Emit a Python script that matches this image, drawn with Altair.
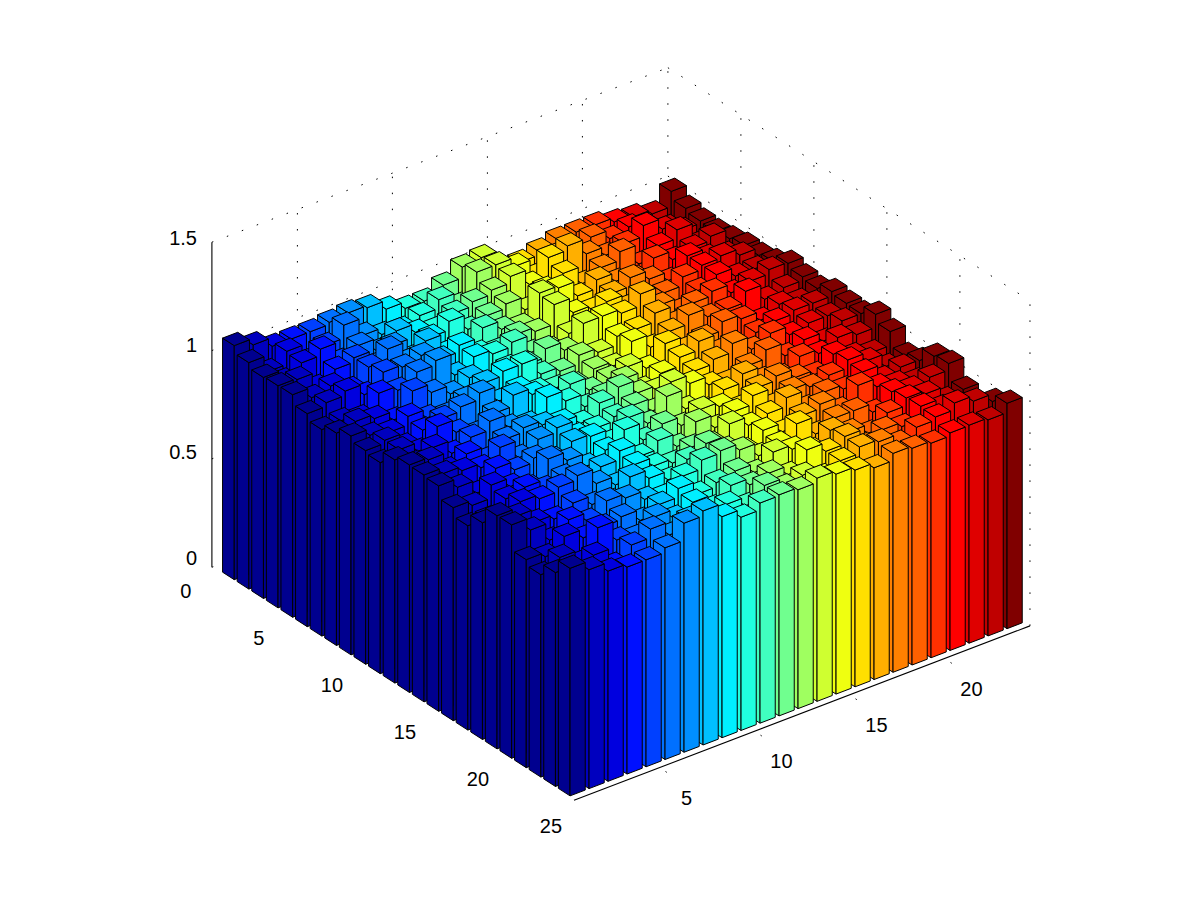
import altair as alt
import pandas as pd

alt.data_transformers.disable_max_rows()

# Bar heights: one list per row (front-left axis), one value per column.
ROW_00 = [1.08,1.05,1.01,1.01,1.01,1.02,1.03,1.02,.98,.95,.95,.99,1.04,1.05,.95,.96,.98,1.00,1.00,1.00,.98,.97,.95,1.02]
ROW_01 = [1.045,.97,1.03,.95,.99,1.05,.97,.94,.93,.96,1.00,.94,1.06,1.06,1.02,.94,1.00,.96,1.02,.98,1.00,.96,.93,.985]
ROW_02 = [1.02,.97,1.02,1.05,.96,1.00,.94,1.00,.96,.94,.98,1.00,1.02,1.05,.98,1.07,1.09,1.02,.98,1.00,1.05,1.00,.96,.97]
ROW_03 = [1.025,1.02,.95,1.00,1.02,.95,1.01,.92,.98,1.02,.95,.98,1.00,.94,1.00,1.04,.96,1.00,1.04,.95,1.00,1.04,.94,.965]
ROW_04 = [1.027,.98,1.00,.95,1.02,1.07,.98,1.04,.95,.92,1.00,.96,.94,1.06,1.05,.98,1.02,.98,.96,1.02,.98,1.00,1.02,.975]
ROW_05 = [.983,1.00,1.02,.97,1.04,1.03,1.05,1.00,1.03,.96,.94,.98,.96,1.05,.98,.96,1.00,1.04,1.00,.96,1.04,1.00,.98,.988]
ROW_06 = [.953,.96,.94,1.02,1.00,1.05,1.07,.97,1.02,1.00,1.02,.94,.92,.96,.97,1.04,.98,.93,.98,1.02,1.04,1.05,1.02,.985]
ROW_07 = [.98,1.00,.98,.94,1.04,1.00,.96,1.00,.94,.98,.96,1.00,.96,1.05,1.05,1.03,1.085,1.00,.94,1.00,1.04,1.00,1.00,1.00]
ROW_08 = [1.01,.98,.96,1.00,.96,.94,.98,1.02,1.04,1.04,.96,.94,.98,.96,1.00,1.00,1.04,.96,1.02,1.04,1.00,1.02,1.04,1.035]
ROW_09 = [.986,1.00,.94,.98,1.00,1.02,1.05,.98,1.00,.96,.94,.92,.96,.94,1.02,.96,1.00,1.04,1.00,1.00,1.05,.98,1.00,1.016]
ROW_10 = [.974,1.00,.96,1.04,.98,.94,1.00,1.05,1.02,.96,1.00,.94,.96,.98,.94,1.02,.96,.98,1.02,1.00,.96,1.00,.98,1.006]
ROW_11 = [1.03,.98,1.02,.96,1.00,1.04,.98,.96,1.05,1.00,.94,.96,1.00,.92,.96,1.00,1.04,.96,.94,.98,1.00,1.016,1.015,1.035]
ROW_12 = [1.05,1.04,.96,1.00,.94,1.00,1.02,1.00,.98,.94,1.00,1.04,.98,.96,.94,.98,1.00,1.04,.98,1.02,.98,1.00,1.00,1.024]
ROW_13 = [1.047,1.02,1.00,.98,1.04,.96,1.01,1.03,.96,.96,.98,1.00,.94,1.04,1.00,.96,.94,.98,1.02,.96,1.00,.96,1.02,1.02]
ROW_14 = [1.04,1.00,.94,1.02,.98,1.00,.96,1.01,1.00,.94,1.02,.96,1.05,.96,.92,.98,1.02,.96,.94,1.00,.98,1.02,1.00,1.06]
ROW_15 = [.983,.96,1.02,.98,.94,1.04,1.00,.94,.98,1.04,.96,1.00,.96,1.00,.98,.94,1.00,1.02,.98,.96,1.02,.98,.96,1.024]
ROW_16 = [.943,.94,1.00,1.02,.98,1.00,.94,.98,1.02,.96,1.00,.94,1.02,.96,1.00,1.04,.96,1.00,.98,1.00,1.037,1.00,.94,.957]
ROW_17 = [1.0,.96,1.03,1.01,1.03,1.05,.98,.94,1.00,.96,.94,.98,.96,1.02,.98,1.00,1.04,.96,1.00,.98,1.025,.96,.98,.977]
ROW_18 = [1.076,1.04,.98,.96,1.00,.96,.94,1.02,.98,.94,1.00,1.04,.98,.94,1.00,.96,1.00,1.02,.96,1.04,1.00,.98,.96,1.04]
ROW_19 = [1.077,1.02,.94,1.00,.96,1.02,1.00,.96,.94,1.00,1.04,1.05,1.02,.96,.98,1.04,.96,1.00,1.00,.96,1.02,1.00,1.02,1.05]
ROW_20 = [.96,.94,1.00,.96,.977,.99,.94,.98,1.02,.96,.98,1.00,.96,1.02,1.00,.96,1.02,.98,.94,1.00,1.035,1.02,.96,.974]
ROW_21 = [.934,.98,.92,1.05,.96,.94,1.00,.96,1.00,.94,1.01,.98,1.00,.96,1.04,1.00,1.035,.96,1.00,.98,1.04,1.00,.96,.943]
ROW_22 = [.987,.94,1.00,.92,.98,1.02,.96,1.00,.96,1.00,.96,1.02,.98,1.00,.96,1.0,1.03,1.02,.98,1.02,1.034,1.065,1.04,1.005]
ROW_23 = [1.05,1.01,.97,.955,.955,.977,1.057,1.08,1.02,.984,1.016,1.02,1.01,1.03,1.015,1.0,.977,1.01,1.0,.99,1.004,1.006,.997,1.04]
ROWS = [ROW_00,ROW_01,ROW_02,ROW_03,ROW_04,ROW_05,ROW_06,ROW_07,ROW_08,ROW_09,ROW_10,ROW_11,
        ROW_12,ROW_13,ROW_14,ROW_15,ROW_16,ROW_17,ROW_18,ROW_19,ROW_20,ROW_21,ROW_22,ROW_23]

COLUMN_COLORS = ["#00008F","#0000BF","#0000DF","#0010FF","#0040FF","#0070FF","#008FFF","#00BFFF",
                 "#00EFFF","#20FFDF","#40FFBF","#70FF8F","#9FFF60","#CFFF30","#EFFF10","#FFDF00",
                 "#FFAF00","#FF8000","#FF6000","#FF3000","#FF0000","#DF0000","#BF0000","#800000"]

X_TICKS = [5, 10, 15, 20]
Y_TICKS = [0, 5, 10, 15, 20, 25]
Z_TICKS = [0, 0.5, 1, 1.5]
Z_LABELS = ["0", "0.5", "1", "1.5"]

BAR_HALF = 0.4
X_LOW, X_HIGH = 0.5, 24.5
Y_LOW, Y_HIGH = 0.0, 24.8
Z_HIGH = 1.5


def project(x, y, z):
    """Oblique view: x and y are 1-based data coordinates, z the height."""
    return (236 + 19.0 * (x - 1) + 14.6 * (y - 1),
            573 - 7.27 * (x - 1) + 9.4 * (y - 1) - 216.7 * z)


faces = []
pid = 0


def add_face(corners, color):
    global pid
    closed = corners + [corners[0]]
    for i, c in enumerate(closed):
        px, py = project(*c)
        faces.append({"poly": pid, "i": i, "px": px, "py": py, "fill": color})
    pid += 1


for r, row in enumerate(ROWS):
    for c in range(len(row) - 1, -1, -1):
        h = row[c]
        x, y, color = c + 1, r + 1, COLUMN_COLORS[c]
        x0, x1, y0, y1 = x - BAR_HALF, x + BAR_HALF, y - BAR_HALF, y + BAR_HALF
        add_face([(x0, y0, 0), (x0, y1, 0), (x0, y1, h), (x0, y0, h)], color)
        add_face([(x0, y1, 0), (x1, y1, 0), (x1, y1, h), (x0, y1, h)], color)
        add_face([(x0, y0, h), (x1, y0, h), (x1, y1, h), (x0, y1, h)], color)

segments_dot, segments_solid = [], []


def seg(store, a, b):
    n = len(store) // 2
    for i, p in enumerate((a, b)):
        px, py = project(*p)
        store.append({"seg": n, "i": i, "px": px, "py": py})


for k in X_TICKS:
    seg(segments_dot, (k, Y_LOW, 0), (k, Y_LOW, Z_HIGH))
    seg(segments_dot, (k, Y_HIGH + 0.5, 0), (k, Y_HIGH, 0))
for k in Y_TICKS[1:-1]:
    seg(segments_dot, (X_HIGH, k, 0), (X_HIGH, k, Z_HIGH))
for z in Z_TICKS:
    seg(segments_dot, (X_LOW, Y_LOW, z), (X_HIGH, Y_LOW, z))
    seg(segments_dot, (X_HIGH, Y_LOW, z), (X_HIGH, Y_HIGH, z))
seg(segments_dot, (X_HIGH, Y_HIGH, 0), (X_HIGH, Y_HIGH, Z_HIGH))
seg(segments_dot, (X_HIGH, Y_LOW, 0), (X_HIGH, Y_LOW, Z_HIGH))
seg(segments_solid, (X_LOW, Y_LOW, 0), (X_LOW, Y_LOW, Z_HIGH))
seg(segments_solid, (X_LOW, Y_HIGH, 0), (X_HIGH, Y_HIGH, 0))

labels_center, labels_right = [], []
for k in X_TICKS:
    px, py = project(k, Y_HIGH, 0)
    labels_center.append({"px": px + 27, "py": py + 31, "t": str(k)})
for k in Y_TICKS:
    px, py = project(X_LOW, k, 0)
    labels_center.append({"px": px - 26, "py": py + 25, "t": str(k)})
for z, t in zip(Z_TICKS, Z_LABELS):
    px, py = project(X_LOW, Y_LOW, z * 0.984)
    labels_right.append({"px": 197, "py": py - 8, "t": t})

x_enc = alt.X("px:Q", axis=None, scale=alt.Scale(domain=[8, 1192], nice=False, zero=False))
y_enc = alt.Y("py:Q", axis=None, scale=alt.Scale(domain=[888, 8], nice=False, zero=False))

dots = alt.Chart(pd.DataFrame(segments_dot)).mark_line(
    color="black", strokeWidth=1, strokeDash=[1.5, 14.5]
).encode(x=x_enc, y=y_enc, detail="seg:N", order="i:Q")

solid = alt.Chart(pd.DataFrame(segments_solid)).mark_line(
    color="black", strokeWidth=1.1
).encode(x=x_enc, y=y_enc, detail="seg:N", order="i:Q")

bars = alt.Chart(pd.DataFrame(faces)).mark_line(
    stroke="black", strokeWidth=1, strokeJoin="round"
).encode(
    x=x_enc, y=y_enc, detail="poly:N", order="i:Q",
    fill=alt.Fill("fill:N", scale=None),
)

text_center = alt.Chart(pd.DataFrame(labels_center)).mark_text(
    font="Liberation Sans", fontSize=20, color="black", baseline="middle", align="center"
).encode(x=x_enc, y=y_enc, text="t:N")
text_right = alt.Chart(pd.DataFrame(labels_right)).mark_text(
    font="Liberation Sans", fontSize=20, color="black", baseline="middle", align="right"
).encode(x=x_enc, y=y_enc, text="t:N")

chart = alt.layer(dots, solid, bars, text_center, text_right).properties(
    width=1184, height=880, padding=0, background="white",
    autosize=alt.AutoSizeParams(type="none")
).configure_view(stroke=None)

chart.save("out.html", embed_options={"renderer": "svg", "actions": False})
